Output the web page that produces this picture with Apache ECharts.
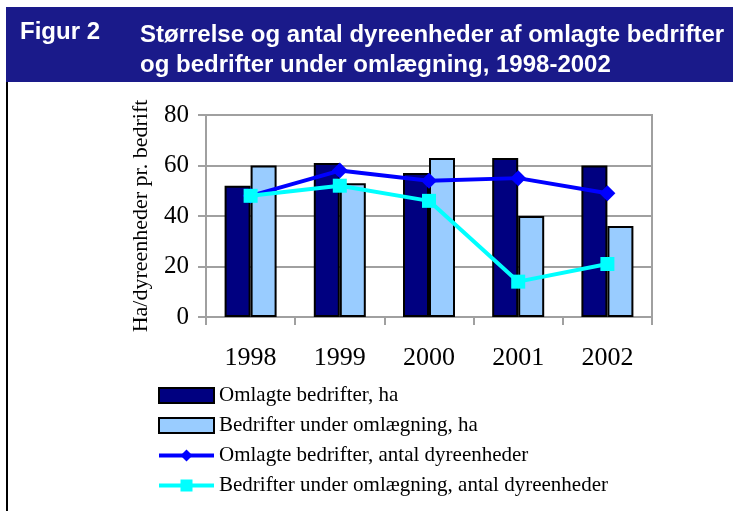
<!DOCTYPE html>
<html><head><meta charset="utf-8">
<script src="https://cdn.jsdelivr.net/npm/echarts@6/dist/echarts.min.js"></script>
<style>html,body{margin:0;padding:0;background:#fff}#c{width:733px;height:511px}</style>
</head><body><div id="c"></div>
<script>
const categories = ['1998','1999','2000','2001','2002'];
const omlagteHa = [52, 61, 57, 63, 60];
const underHa = [60, 53, 63, 40, 36];
const omlagteDE = [48, 58, 54, 55, 49];
const underDE = [48, 52, 46, 14, 21];
const seriesNames = ['Omlagte bedrifter, ha','Bedrifter under omlægning, ha','Omlagte bedrifter, antal dyreenheder','Bedrifter under omlægning, antal dyreenheder'];
const yTicks = {min:0, max:80, interval:20};

const chart = echarts.init(document.getElementById('c'));
const serif = '"Liberation Serif","Times New Roman",serif';
const sans = '"Liberation Sans",Arial,sans-serif';
chart.setOption({
  animation:false,
  backgroundColor:'#fff',
  graphic:[
    {type:'rect', shape:{x:6,y:7,width:727,height:75}, style:{fill:'#1a1a8a'}, z:-1},
    {type:'line', shape:{x1:7,y1:82,x2:7,y2:511}, style:{stroke:'#000',lineWidth:2}},
    {type:'text', left:20, top:20, style:{text:'Figur 2', fill:'#fff', font:'bold 24px '+sans}},
    {type:'text', left:140, top:20, style:{text:'Størrelse og antal dyreenheder af omlagte bedrifter\nog bedrifter under omlægning, 1998-2002', fill:'#fff', font:'bold 24px '+sans, lineHeight:30}}
  ],
  grid:{left:206, right:81, top:115, bottom:194, show:true, borderColor:'#a0a0a0', borderWidth:2},
  legend:{
    orient:'vertical', left:152, top:380, itemWidth:55, itemHeight:15, itemGap:9,
    textStyle:{fontFamily:serif, fontSize:21, color:'#000'},
    data:[
      {name:seriesNames[0], icon:'rect'},
      {name:seriesNames[1], icon:'rect'},
      {name:seriesNames[2], lineStyle:{width:4}},
      {name:seriesNames[3], lineStyle:{width:4}}
    ]
  },
  xAxis:{
    type:'category', data:categories,
    axisLine:{lineStyle:{color:'#a0a0a0', width:2}},
    axisTick:{show:true, length:8, lineStyle:{color:'#a0a0a0', width:2}},
    axisLabel:{fontFamily:serif, fontSize:26, color:'#000', margin:28}
  },
  yAxis:{
    type:'value', min:yTicks.min, max:yTicks.max, interval:yTicks.interval,
    name:'Ha/dyreenheder pr. bedrift', nameLocation:'middle', nameRotate:90, nameGap:54,
    nameTextStyle:{fontFamily:serif, fontSize:22, color:'#000'},
    axisLine:{show:true, lineStyle:{color:'#a0a0a0', width:2}},
    axisTick:{show:true, length:8, lineStyle:{color:'#a0a0a0', width:2}},
    axisLabel:{fontFamily:serif, fontSize:25, color:'#000', margin:17},
    splitLine:{lineStyle:{color:'#a0a0a0', width:2}}
  },
  series:[
    {name:seriesNames[0], type:'bar', data:omlagteHa, barWidth:26, barGap:'0%',
     itemStyle:{color:'#000080', borderColor:'#000', borderWidth:2}},
    {name:seriesNames[1], type:'bar', data:underHa, barWidth:26, barGap:'0%',
     itemStyle:{color:'#99ccff', borderColor:'#000', borderWidth:2}},
    {name:seriesNames[2], type:'line', data:omlagteDE, symbol:'diamond', symbolSize:16,
     lineStyle:{color:'#0000ff', width:4}, itemStyle:{color:'#0000ff'}, z:3},
    {name:seriesNames[3], type:'line', data:underDE, symbol:'rect', symbolSize:14,
     lineStyle:{color:'#00ffff', width:4}, itemStyle:{color:'#00ffff'}, z:4}
  ]
});
</script></body></html>
